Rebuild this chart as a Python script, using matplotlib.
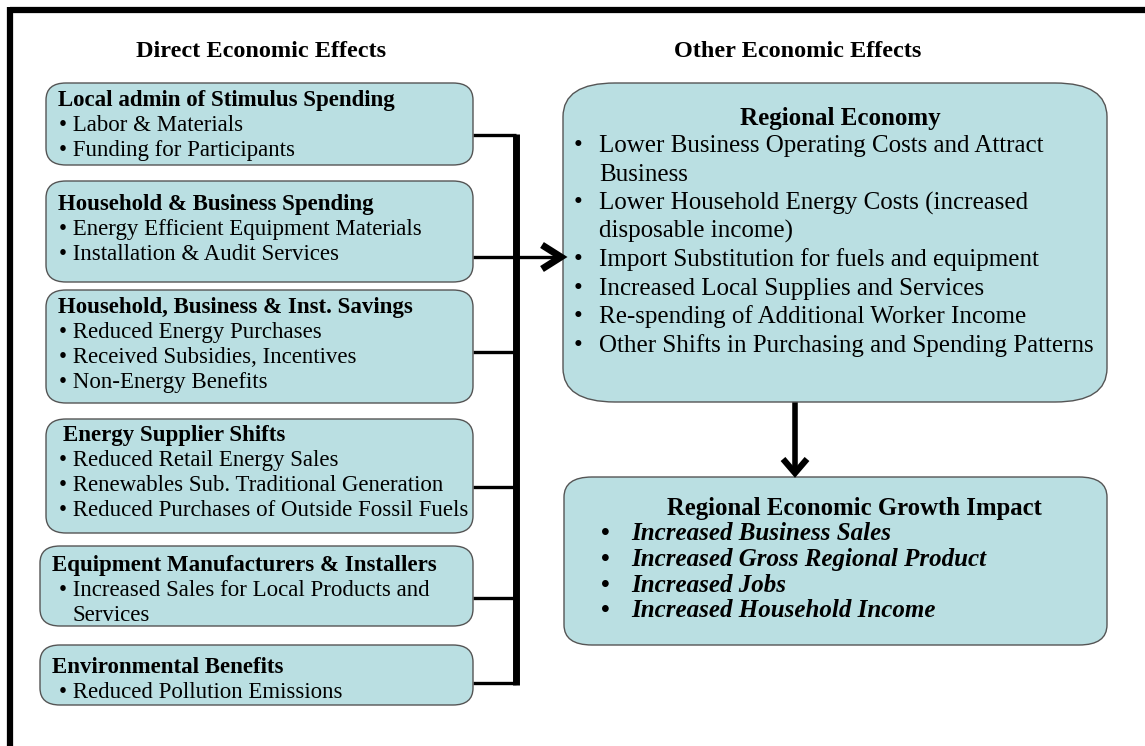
import matplotlib
matplotlib.use("Agg")
import matplotlib.pyplot as plt
from matplotlib.patches import FancyBboxPatch

plt.rcParams['font.family'] = ['Liberation Serif', 'DejaVu Serif']

# ---- content ----
left_heading = "Direct Economic Effects"
right_heading = "Other Economic Effects"

left_titles = [
    "Local admin of Stimulus Spending",
    "Household & Business Spending",
    "Household, Business & Inst. Savings",
    "Energy Supplier Shifts",
    "Equipment Manufacturers & Installers",
    "Environmental Benefits",
]
left_items = [
    ["Labor & Materials", "Funding for Participants"],
    ["Energy Efficient Equipment Materials", "Installation & Audit Services"],
    ["Reduced Energy Purchases", "Received Subsidies, Incentives", "Non-Energy Benefits"],
    ["Reduced Retail Energy Sales", "Renewables Sub. Traditional Generation",
     "Reduced Purchases of Outside Fossil Fuels"],
    ["Increased Sales for Local Products and\nServices"],
    ["Reduced Pollution Emissions"],
]
regional_title = "Regional Economy"
regional_items = [
    "Lower Business Operating Costs and Attract\nBusiness",
    "Lower Household Energy Costs (increased\ndisposable income)",
    "Import Substitution for fuels and equipment",
    "Increased Local Supplies and Services",
    "Re-spending of Additional Worker Income",
    "Other Shifts in Purchasing and Spending Patterns",
]
growth_title = "Regional Economic Growth Impact"
growth_items = [
    "Increased Business Sales",
    "Increased Gross Regional Product",
    "Increased Jobs",
    "Increased Household Income",
]

# ---- layout (pixels) ----
W, H = 1145, 746
fig = plt.figure(figsize=(W / 100, H / 100), dpi=100)
ax = fig.add_axes([0, 0, 1, 1])
ax.set_xlim(0, W)
ax.set_ylim(H, 0)
ax.axis('off')

FILL = '#badfe2'
EDGE = '#555555'


def txt(x, yc, s, fs, **kw):
    """Place text so that the visual middle of capitals sits at yc (pixels)."""
    base = yc + 0.33 * fs * 100 / 72
    ax.text(x, base, s, ha=kw.pop('ha', 'left'), va='baseline', fontsize=fs, zorder=3, **kw)


# outer frame (top and left visible)
ax.plot([9.5, W + 5], [10, 10], color='black', lw=4.5, solid_capstyle='butt')
ax.plot([9.5, 9.5], [7, H + 5], color='black', lw=4.5, solid_capstyle='butt')

txt(261, 49, left_heading, 17.5, ha='center', fontweight='bold')
txt(798, 49, right_heading, 17.5, ha='center', fontweight='bold')

# left boxes geometry: (x0, y0, x1, y1, title_x, title_y, connector_y)
left_geom = [
    (46, 83, 473, 165, 58, 98, 135),
    (46, 181, 473, 282, 58, 202, 257),
    (46, 290, 473, 403, 58, 305, 352),
    (46, 419, 473, 533, 63, 433, 487),
    (40, 546, 473, 626, 52, 563, 598),
    (40, 645, 473, 705, 52, 665, 683),
]
line_h = 25.2
bar_x = 516
arrow_tip = 563
FS_L = 16.5

for (x0, y0, x1, y1, tx, ty, cy), t, items in zip(left_geom, left_titles, left_items):
    ax.add_patch(FancyBboxPatch((x0, y0), x1 - x0, y1 - y0,
                                boxstyle="round,pad=0,rounding_size=20",
                                mutation_aspect=0.85,
                                fc=FILL, ec=EDGE, lw=1.0, zorder=2))
    txt(tx, ty, t, FS_L, fontweight='bold')
    yy = ty + line_h
    for it in items:
        lines = it.split('\n')
        txt(59, yy, '\u2022 ' + lines[0], FS_L)
        for k, ln in enumerate(lines[1:], start=1):
            txt(73, yy + k * line_h, ln, FS_L)
        yy += line_h * len(lines)
    # connector
    xe = arrow_tip - 3 if cy == 257 else bar_x
    ax.plot([x1, xe], [cy, cy], color='black', lw=2.4, solid_capstyle='butt', zorder=1)

# vertical bus
ax.plot([bar_x, bar_x], [left_geom[0][6] - 1, left_geom[-1][6] + 2], color='black', lw=5,
        solid_capstyle='butt', zorder=1)
# arrow head to regional economy
ax.plot([542, arrow_tip - 2, 542], [245, 257, 269], color='black', lw=5, solid_joinstyle='miter',
        solid_capstyle='butt', zorder=4)

# regional economy box
rx0, ry0, rx1, ry1 = 563, 83, 1107, 402
ax.add_patch(FancyBboxPatch((rx0, ry0), rx1 - rx0, ry1 - ry0,
                            boxstyle="round,pad=0,rounding_size=52",
                            mutation_aspect=0.65,
                            fc=FILL, ec=EDGE, lw=1.0, zorder=2))
FS_R = 18
txt(840, 117, regional_title, FS_R, ha='center', fontweight='bold')
yy = 144
for it in regional_items:
    lines = it.split('\n')
    txt(574, yy, '\u2022', FS_R)
    for k, ln in enumerate(lines):
        txt(599, yy + k * 28.5, ln, FS_R)
    yy += 28.5 * len(lines)

# down arrow
ax.plot([795, 795], [402, 472], color='black', lw=4, solid_capstyle='butt', zorder=1)
ax.plot([783, 795, 807], [459, 473, 459], color='black', lw=4.5, solid_joinstyle='miter',
        solid_capstyle='butt', zorder=4)

# growth impact box
gx0, gy0, gx1, gy1 = 564, 477, 1107, 645
ax.add_patch(FancyBboxPatch((gx0, gy0), gx1 - gx0, gy1 - gy0,
                            boxstyle="round,pad=0,rounding_size=28",
                            mutation_aspect=0.72,
                            fc=FILL, ec=EDGE, lw=1.0, zorder=2))
txt(854, 507, growth_title, 17.8, ha='center', fontweight='bold')
yy = 532
for it in growth_items:
    txt(601, yy, '\u2022', 18, fontweight='bold')
    txt(631, yy, it, 18, fontweight='bold', fontstyle='italic')
    yy += 25.7

fig.savefig('out.png', dpi=100, facecolor='white')
